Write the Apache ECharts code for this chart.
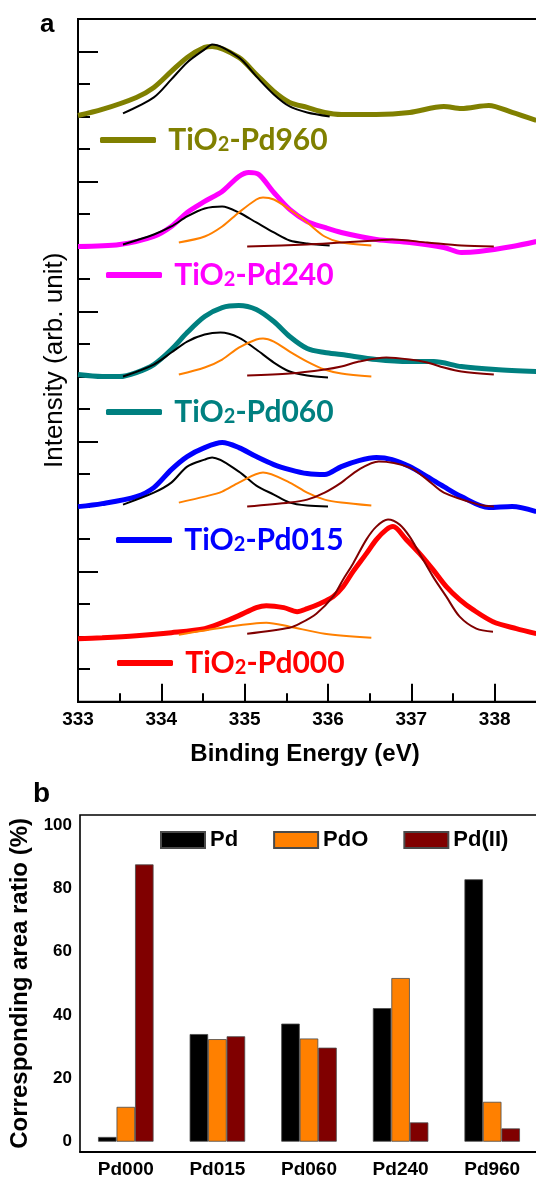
<!DOCTYPE html>
<html>
<head>
<meta charset="utf-8">
<script src="https://cdn.jsdelivr.net/npm/echarts@6/dist/echarts.min.js"></script>
<style>
  html, body { margin: 0; padding: 0; background: #fff; }
  #chart { width: 536px; height: 1179px; }
</style>
</head>
<body>
<div id="chart"></div>
<script>
// ---- panel a : Pd 3d XPS, [binding energy (eV), intensity (arb. unit)] ----
const pd960 = [[333.0, 58.6], [333.29, 59.2], [333.7, 60.4], [333.91, 61.4], [334.12, 63.0], [334.31, 64.4], [334.52, 65.4], [334.61, 65.5], [334.93, 64.4], [335.14, 62.7], [335.35, 61.0], [335.54, 59.9], [335.75, 59.4], [335.96, 58.9], [336.16, 58.7], [336.58, 58.7], [336.98, 58.9], [337.39, 59.5], [337.6, 59.3], [337.93, 59.6], [338.21, 58.9], [338.5, 58.1]];
const pd960Pd = [[333.54, 58.8], [333.91, 60.4], [334.12, 62.2], [334.31, 63.9], [334.52, 65.2], [334.61, 65.7], [334.93, 64.4], [335.14, 62.5], [335.35, 60.7], [335.54, 59.5], [335.75, 58.9], [336.02, 58.5]];

const pd240 = [[333.0, 45.5], [333.5, 45.7], [333.91, 46.5], [334.12, 47.5], [334.31, 48.9], [334.52, 50.0], [334.73, 51.0], [334.93, 52.5], [335.05, 52.9], [335.17, 52.7], [335.35, 50.9], [335.54, 49.2], [335.75, 48.0], [335.96, 47.4], [336.16, 46.9], [336.58, 46.2], [336.98, 45.9], [337.39, 45.4], [337.6, 44.9], [337.81, 45.0], [338.21, 45.5], [338.5, 46.0]];
const pd240Pd = [[333.54, 45.7], [333.91, 46.7], [334.12, 47.5], [334.31, 48.5], [334.52, 49.3], [334.73, 49.5], [334.93, 48.9], [335.14, 47.9], [335.35, 46.9], [335.54, 46.1], [335.75, 45.8], [336.02, 45.6]];
const pd240PdO = [[334.21, 45.9], [334.52, 46.5], [334.73, 47.5], [334.93, 48.9], [335.14, 50.2], [335.22, 50.4], [335.35, 50.2], [335.54, 49.2], [335.75, 47.9], [335.96, 46.5], [336.16, 45.9], [336.52, 45.6]];
const pd240PdII = [[335.03, 45.5], [335.75, 45.7], [336.16, 45.9], [336.58, 46.1], [336.77, 46.2], [337.19, 45.9], [337.6, 45.6], [337.99, 45.5]];

const pd060 = [[333.0, 32.7], [333.29, 32.5], [333.5, 32.5], [333.7, 32.9], [333.91, 33.7], [334.12, 35.2], [334.31, 36.9], [334.52, 38.5], [334.73, 39.4], [334.93, 39.6], [335.14, 39.2], [335.35, 38.0], [335.54, 36.5], [335.75, 35.3], [335.96, 34.9], [336.16, 34.7], [336.58, 34.2], [336.98, 34.0], [337.27, 34.0], [337.6, 33.5], [338.01, 33.2], [338.5, 33.0]];
const pd060Pd = [[333.54, 32.5], [333.91, 33.7], [334.12, 34.9], [334.31, 36.0], [334.52, 36.7], [334.71, 36.9], [334.93, 36.4], [335.14, 35.2], [335.35, 33.9], [335.54, 33.0], [335.75, 32.6], [336.0, 32.4]];
const pd060PdO = [[334.21, 32.7], [334.52, 33.4], [334.73, 34.2], [334.93, 35.4], [335.14, 36.2], [335.22, 36.3], [335.35, 36.0], [335.54, 35.0], [335.75, 34.0], [335.96, 33.2], [336.16, 32.8], [336.52, 32.5]];
const pd060PdII = [[335.03, 32.6], [335.54, 32.8], [335.96, 33.2], [336.16, 33.5], [336.37, 34.0], [336.7, 34.4], [336.98, 34.2], [337.19, 33.9], [337.39, 33.4], [337.6, 33.0], [337.99, 32.7]];

const pd015 = [[333.0, 19.5], [333.29, 19.8], [333.7, 20.5], [333.91, 21.4], [334.12, 23.2], [334.31, 24.5], [334.52, 25.4], [334.73, 25.9], [334.93, 25.4], [335.14, 24.5], [335.35, 23.7], [335.54, 23.2], [335.75, 22.8], [335.96, 22.7], [336.16, 23.5], [336.37, 24.1], [336.58, 24.4], [336.77, 24.2], [336.98, 23.5], [337.19, 22.5], [337.39, 21.5], [337.6, 20.5], [337.93, 19.4], [338.21, 19.5], [338.5, 19.0]];
const pd015Pd = [[333.54, 19.7], [333.91, 20.9], [334.12, 21.9], [334.31, 23.5], [334.52, 24.2], [334.61, 24.4], [334.93, 23.0], [335.14, 21.6], [335.35, 20.7], [335.54, 19.9], [335.75, 19.6], [336.0, 19.5]];
const pd015PdO = [[334.21, 19.9], [334.52, 20.5], [334.73, 21.0], [334.93, 21.9], [335.22, 22.9], [335.54, 21.9], [335.75, 20.9], [335.96, 20.2], [336.16, 19.9], [336.52, 19.6]];
const pd015PdII = [[335.03, 19.5], [335.54, 19.9], [335.75, 20.2], [335.96, 20.9], [336.16, 21.9], [336.37, 23.2], [336.61, 24.0], [336.98, 23.4], [337.19, 22.2], [337.39, 20.9], [337.81, 19.7], [337.99, 19.5]];

const pd000 = [[333.0, 6.3], [333.29, 6.4], [333.7, 6.6], [334.12, 6.9], [334.52, 7.3], [334.73, 7.9], [334.93, 8.6], [335.14, 9.4], [335.26, 9.6], [335.47, 9.4], [335.63, 9.0], [335.75, 9.3], [335.9, 9.8], [336.06, 10.5], [336.18, 11.5], [336.3, 13.0], [336.46, 14.8], [336.58, 16.2], [336.7, 17.2], [336.78, 17.5], [336.94, 16.2], [337.1, 14.8], [337.26, 13.2], [337.42, 11.5], [337.58, 10.2], [337.74, 9.2], [337.98, 8.0], [338.26, 7.3], [338.5, 6.8]];
const pd000PdO = [[334.21, 6.7], [334.73, 7.4], [335.26, 7.9], [335.54, 7.5], [335.96, 6.8], [336.52, 6.4]];
const pd000PdII = [[335.03, 6.8], [335.54, 7.4], [335.66, 7.8], [335.86, 8.8], [336.06, 10.5], [336.18, 12.2], [336.3, 13.8], [336.46, 16.2], [336.58, 17.5], [336.72, 18.2], [336.86, 17.7], [336.98, 16.5], [337.1, 14.8], [337.26, 12.5], [337.42, 10.5], [337.58, 8.5], [337.78, 7.3], [337.98, 7.0]];

// ---- panel b : corresponding area ratio (%) ----
const barCats = ['Pd000', 'Pd015', 'Pd060', 'Pd240', 'Pd960'];
const ratioPd = [1.5, 34.0, 37.3, 42.2, 82.9];
const ratioPdO = [11.0, 32.4, 32.6, 51.7, 12.6];
const ratioPdII = [87.6, 33.3, 29.7, 6.1, 4.2];
const ratioTicks = [0, 20, 40, 60, 80, 100];
const ratioMinorTicks = [10, 30, 50, 70, 90];

const FONT = 'Liberation Sans, Arial, sans-serif';
const C_PD = '#000000', C_PDO = '#ff8000', C_PDII = '#800000';

const samples = [
  { name: 'TiO2-Pd960', color: '#808000', data: pd960, fits: [[pd960Pd, C_PD]] },
  { name: 'TiO2-Pd240', color: '#ff00ff', data: pd240, fits: [[pd240Pd, C_PD], [pd240PdO, C_PDO], [pd240PdII, C_PDII]] },
  { name: 'TiO2-Pd060', color: '#008080', data: pd060, fits: [[pd060Pd, C_PD], [pd060PdO, C_PDO], [pd060PdII, C_PDII]] },
  { name: 'TiO2-Pd015', color: '#0000ff', data: pd015, fits: [[pd015Pd, C_PD], [pd015PdO, C_PDO], [pd015PdII, C_PDII]] },
  { name: 'TiO2-Pd000', color: '#ff0000', data: pd000, fits: [[pd000PdO, C_PDO], [pd000PdII, C_PDII]] }
];
// legend line start / top for each sample label
const legendPos = [[100, 125], [106, 260], [106, 397], [116, 525], [117, 648]];

let series = [];
samples.forEach(function (s) {
  series.push({
    name: s.name, type: 'line', xAxisIndex: 0, yAxisIndex: 0,
    data: s.data, symbol: 'none', smooth: 0.3, z: 2,
    lineStyle: { color: s.color, width: 5 }, itemStyle: { color: s.color }
  });
});
samples.forEach(function (s) {
  s.fits.forEach(function (f, j) {
    series.push({
      name: s.name + ' fit' + j, type: 'line', xAxisIndex: 0, yAxisIndex: 0,
      data: f[0], symbol: 'none', smooth: 0.3, z: 3,
      lineStyle: { color: f[1], width: 2 }
    });
  });
});

const bars = [['Pd', ratioPd, C_PD], ['PdO', ratioPdO, C_PDO], ['Pd(II)', ratioPdII, C_PDII]];
bars.forEach(function (b) {
  series.push({
    name: b[0], type: 'bar', xAxisIndex: 1, yAxisIndex: 1,
    data: b[1], barWidth: 18.5, barGap: '0%',
    itemStyle: { color: b[2], borderColor: '#4a4a4a', borderWidth: 0.8 }
  });
});

let legends = samples.map(function (s, i) {
  return {
    data: [s.name], left: legendPos[i][0], top: legendPos[i][1], padding: 0,
    icon: 'roundRect', itemWidth: 56, itemHeight: 6, selectedMode: false,
    formatter: function (n) { return ' ' + n.replace('TiO2', 'TiO{s|2}'); },
    textStyle: {
      color: s.color, fontFamily: 'Lato', fontWeight: 'bold', fontSize: 30, lineHeight: 30,
      rich: { s: { color: s.color, fontFamily: 'Lato', fontWeight: 'bold', fontSize: 20, verticalAlign: 'bottom' } }
    }
  };
});
legends.push({
  data: ['Pd', 'PdO', 'Pd(II)'], left: 160, top: 828, padding: 0,
  icon: 'rect', itemWidth: 44, itemHeight: 16, itemGap: 35, selectedMode: false,
  textStyle: { color: '#000', fontFamily: FONT, fontWeight: 'bold', fontSize: 22, lineHeight: 24 }
});

const myChart = echarts.init(document.getElementById('chart'));
const option = {
  animation: false,
  backgroundColor: '#fff',
  grid: [
    { left: 78, top: 19, width: 463, height: 682.7, outerBoundsMode: 'none', containLabel: false, show: true, borderColor: '#000', borderWidth: 2 },
    { left: 80, top: 815, width: 458, height: 336.7, outerBoundsMode: 'none', containLabel: false, show: true, borderColor: '#000', borderWidth: 1.6 }
  ],
  xAxis: [{
    gridIndex: 0, type: 'value', min: 333, max: 338.556, interval: 1,
    name: 'Binding Energy (eV)', nameLocation: 'middle', nameGap: 41,
    nameTextStyle: { fontFamily: FONT, fontWeight: 'bold', fontSize: 24, color: '#000', padding: [0, 9, 0, 0] },
    axisLine: { lineStyle: { color: '#000', width: 2 } },
    axisTick: { inside: true, length: 18, lineStyle: { color: '#000', width: 2 } },
    minorTick: { show: true, splitNumber: 2, length: 8.5, lineStyle: { color: '#000', width: 2 } },
    splitLine: { show: false },
    axisLabel: { showMaxLabel: false, margin: 9, fontFamily: FONT, fontWeight: 'bold', fontSize: 19, color: '#000' }
  }, {
    gridIndex: 1, type: 'category', data: barCats, boundaryGap: true,
    axisLine: { onZero: false, lineStyle: { color: '#000', width: 2 } },
    axisTick: { show: false },
    axisLabel: { margin: 9, fontFamily: FONT, fontWeight: 'bold', fontSize: 19, color: '#000' }
  }],
  yAxis: [{
    gridIndex: 0, type: 'value', min: 0, max: 68.24, interval: 13,
    name: 'Intensity (arb. unit)', nameLocation: 'middle', nameGap: 10,
    nameTextStyle: { fontFamily: FONT, fontSize: 26, color: '#000' },
    axisLine: { lineStyle: { color: '#000', width: 2 } },
    axisTick: { inside: true, length: 20, lineStyle: { color: '#000', width: 2 } },
    minorTick: { show: true, splitNumber: 4, length: 12, lineStyle: { color: '#000', width: 2 } },
    splitLine: { show: false },
    axisLabel: { show: false }
  }, {
    gridIndex: 1, type: 'value', min: -3.16, max: 103.2,
    name: 'Corresponding area ratio (%)', nameLocation: 'middle', nameGap: 43,
    nameTextStyle: { fontFamily: FONT, fontWeight: 'bold', fontSize: 24, color: '#000' },
    axisLine: { lineStyle: { color: '#000', width: 2 } },
    axisTick: { inside: true, length: 10, customValues: ratioTicks, lineStyle: { color: '#000', width: 2 } },
    splitLine: { show: false },
    axisLabel: { customValues: ratioTicks, margin: 8, fontFamily: FONT, fontWeight: 'bold', fontSize: 17, color: '#000' }
  }, {
    gridIndex: 1, type: 'value', min: -3.16, max: 103.2,
    axisLine: { show: false },
    axisTick: { inside: true, length: 6, customValues: ratioMinorTicks, lineStyle: { color: '#000', width: 2 } },
    splitLine: { show: false },
    axisLabel: { show: false }
  }],
  legend: legends,
  graphic: [
    { type: 'text', left: 40, top: 12, style: { text: 'a', fontFamily: FONT, fontWeight: 'bold', fontSize: 26, fill: '#000' } },
    { type: 'text', left: 33, top: 780, style: { text: 'b', fontFamily: FONT, fontWeight: 'bold', fontSize: 28, fill: '#000' } }
  ],
  series: series
};
myChart.setOption(option);
</script>
</body>
</html>
